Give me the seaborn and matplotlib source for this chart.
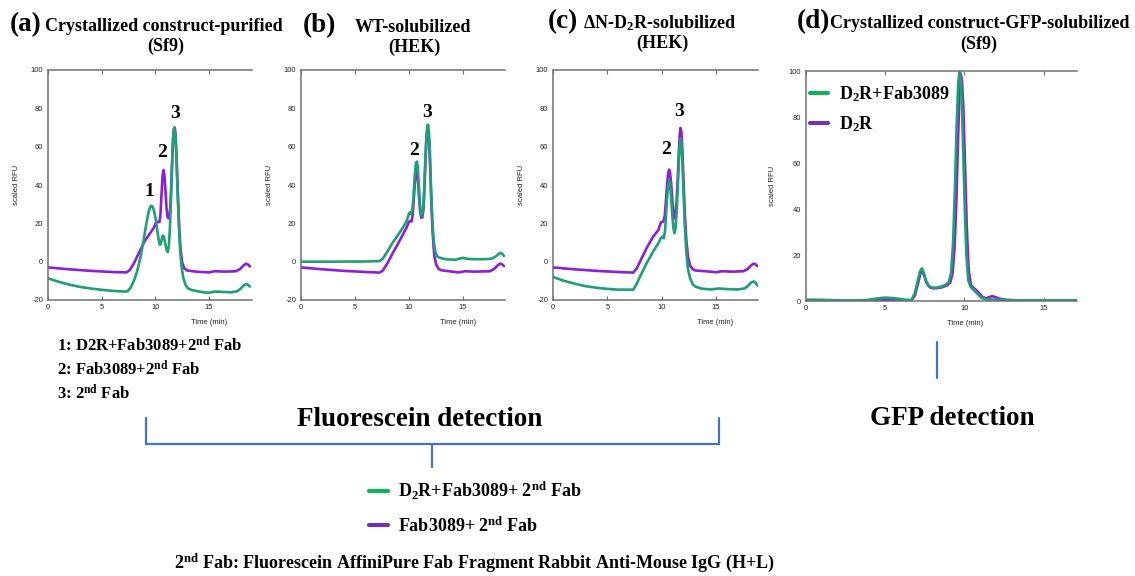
import matplotlib
matplotlib.use("Agg")
import matplotlib.pyplot as plt
from matplotlib.lines import Line2D
import seaborn as sns

# ---- traces (time in min, scaled RFU) ----
# (a) crystallized construct, purified (Sf9)
a_time_green = [0, 1, 2, 3, 4, 5, 6, 7, 7.4, 7.7, 8.0, 8.3, 8.6, 8.9, 9.15, 9.35, 9.5, 9.62, 9.75, 9.9,
                10.05, 10.2, 10.32, 10.42, 10.52, 10.62, 10.7, 10.8, 10.92, 11.05, 11.15, 11.25, 11.35,
                11.45, 11.55, 11.65, 11.73, 11.8, 11.88, 11.97, 12.07, 12.18, 12.3, 12.45, 12.6, 12.8,
                13.0, 13.4, 14.0, 14.5, 15.0, 15.5, 16.0, 17.0, 17.6, 17.9, 18.2, 18.45, 18.65, 18.8]
a_green = [-8.7, -10.5, -12.0, -13.2, -14.0, -14.7, -15.2, -15.6, -15.5, -13.5, -10.0, -5.0, 2.0, 11.0,
           19.5, 25.5, 28.3, 29.2, 28.6, 26.0, 21.5, 15.5, 11.0, 8.8, 9.5, 12.5, 13.6, 12.8, 9.5, 6.0,
           5.0, 8.0, 17.0, 32.0, 50.0, 64.0, 69.5, 69.8, 65.0, 53.0, 36.0, 20.0, 6.5, -3.0, -8.5, -12.0,
           -13.8, -14.8, -15.5, -16.0, -16.2, -15.6, -15.7, -16.0, -15.5, -14.3, -12.5, -11.7, -12.2, -13.0]
a_time_purple = [0, 2, 4, 6, 7.3, 7.6, 8.0, 8.5, 9.0, 9.5, 9.85, 10.05, 10.2, 10.38, 10.48, 10.58, 10.68,
                 10.76, 10.84, 10.94, 11.04, 11.14, 11.24, 11.32, 11.42, 11.52, 11.62, 11.72, 11.8, 11.88,
                 11.98, 12.1, 12.22, 12.35, 12.5, 12.7, 12.95, 13.5, 14.0, 15.0, 15.5, 16.5, 17.5, 17.9,
                 18.2, 18.45, 18.65, 18.8]
a_purple = [-3.0, -4.0, -4.8, -5.4, -5.6, -4.5, -0.9, 5.0, 10.7, 14.8, 17.6, 20.4, 20.8, 20.6, 25.0, 36.0,
            45.5, 47.8, 45.0, 37.0, 28.0, 23.0, 22.6, 23.5, 31.0, 46.0, 61.0, 69.0, 70.0, 66.0, 53.0, 35.0,
            18.0, 6.0, -0.5, -3.5, -4.6, -5.0, -5.3, -5.6, -5.0, -5.2, -5.0, -3.8, -2.0, -1.0, -1.6, -2.5]

# (b) WT solubilized (HEK)
b_time_green = [0, 3, 6, 7.3, 7.6, 8.0, 8.5, 9.0, 9.5, 9.8, 10.0, 10.1, 10.2, 10.3, 10.42, 10.54, 10.65,
                10.74, 10.82, 10.92, 11.02, 11.12, 11.22, 11.32, 11.42, 11.52, 11.62, 11.7, 11.78, 11.86,
                11.95, 12.05, 12.17, 12.3, 12.45, 12.65, 13.0, 13.5, 14.3, 15.0, 15.4, 16.0, 17.0, 17.6,
                18.0, 18.3, 18.55, 18.8]
b_green = [0.0, 0.0, 0.1, 0.3, 1.8, 5.2, 10.0, 14.0, 18.3, 21.5, 25.0, 25.8, 24.8, 26.0, 34.0, 45.0, 51.5,
           52.2, 49.0, 40.0, 30.0, 24.5, 24.0, 27.0, 38.0, 54.0, 66.0, 71.0, 71.5, 67.0, 56.0, 38.0, 21.0,
           10.5, 5.0, 2.5, 1.8, 1.2, 1.0, 2.0, 1.5, 1.3, 1.3, 1.5, 2.5, 4.0, 4.6, 3.0]
b_time_purple = [0, 2, 4, 6, 7.3, 7.6, 8.0, 8.5, 9.0, 9.5, 9.8, 10.0, 10.12, 10.25, 10.36, 10.47, 10.58,
                 10.68, 10.76, 10.84, 10.94, 11.04, 11.14, 11.24, 11.34, 11.44, 11.54, 11.64, 11.72, 11.8,
                 11.88, 11.97, 12.08, 12.2, 12.35, 12.52, 12.75, 13.0, 14.0, 14.6, 15.2, 16.0, 17.5, 17.9,
                 18.2, 18.45, 18.65, 18.8]
b_purple = [-3.0, -4.0, -4.8, -5.4, -5.7, -4.5, -0.9, 4.5, 9.5, 14.8, 18.0, 20.9, 21.2, 21.0, 25.0, 34.5,
            43.5, 47.5, 46.5, 42.0, 33.0, 26.0, 23.0, 23.0, 27.0, 38.0, 54.0, 65.0, 69.0, 68.5, 62.0, 48.0,
            30.0, 14.8, 3.0, -1.5, -3.8, -4.5, -5.2, -5.6, -5.0, -5.2, -5.0, -3.8, -2.0, -1.0, -1.5, -2.3]

# (c) dN-D2R solubilized (HEK)
c_time_green = [0, 1, 2, 3, 4, 5, 6, 7.39, 7.7, 8.0, 8.6, 9.2, 9.69, 9.91, 10.05, 10.18, 10.3, 10.4, 10.5,
                10.6, 10.68, 10.76, 10.86, 10.96, 11.06, 11.16, 11.26, 11.36, 11.46, 11.56, 11.64, 11.72,
                11.8, 11.9, 12.0, 12.12, 12.25, 12.4, 12.6, 12.85, 13.1, 13.6, 14.5, 15.2, 16.0, 17.0,
                17.6, 17.9, 18.2, 18.45, 18.65, 18.8]
c_green = [-8.0, -10.0, -11.5, -12.8, -13.6, -14.2, -14.6, -14.6, -11.5, -7.8, -0.9, 5.2, 9.6, 12.2, 13.0,
           12.2, 16.0, 25.0, 34.0, 40.5, 42.5, 41.0, 34.0, 25.0, 18.0, 14.8, 17.0, 25.0, 37.0, 51.0, 60.0,
           64.4, 62.0, 52.0, 36.0, 19.0, 6.0, -3.5, -8.5, -11.8, -13.0, -14.0, -14.5, -14.0, -14.3, -14.5,
           -14.0, -12.8, -11.0, -10.3, -11.2, -12.5]
c_time_purple = [0, 2, 4, 6, 7.39, 7.7, 8.0, 8.6, 9.2, 9.69, 9.91, 10.15, 10.28, 10.4, 10.5, 10.6, 10.68,
                 10.76, 10.86, 10.96, 11.06, 11.16, 11.26, 11.36, 11.46, 11.56, 11.64, 11.72, 11.8, 11.9,
                 12.0, 12.12, 12.25, 12.4, 12.6, 12.85, 13.1, 14.0, 15.0, 15.5, 16.5, 17.5, 17.9, 18.2,
                 18.45, 18.65, 18.8]
c_purple = [-3.0, -4.0, -4.8, -5.4, -5.7, -3.5, 0.0, 7.0, 13.0, 16.5, 20.4, 21.0, 24.0, 33.0, 41.0, 46.5,
            48.0, 46.5, 41.0, 33.0, 26.0, 22.6, 24.0, 31.0, 42.0, 56.0, 65.0, 69.8, 68.0, 58.0, 42.0, 25.0,
            12.0, 3.0, -2.0, -4.0, -4.6, -5.0, -5.5, -5.0, -5.2, -5.0, -3.8, -2.0, -1.0, -1.5, -2.3]

# (d) crystallized construct, GFP solubilized (Sf9)
d_time_green = [0, 1, 2, 3, 3.8, 4.4, 5.0, 5.6, 6.2, 6.65, 6.86, 7.06, 7.2, 7.32, 7.44, 7.58, 7.75, 7.95,
                8.2, 8.5, 8.8, 9.0, 9.15, 9.28, 9.4, 9.5, 9.6, 9.68, 9.75, 9.83, 9.92, 10.02, 10.12, 10.24,
                10.38, 10.55, 10.72, 10.9, 11.1, 11.4, 11.8, 12.3, 13.0, 14.0, 15.0, 16.0, 17.1]
d_green = [0.6, 0.5, 0.3, 0.2, 0.4, 1.0, 1.5, 1.2, 0.6, 0.4, 3.3, 9.1, 13.0, 14.2, 12.0, 8.6, 6.5, 5.8,
           5.8, 6.2, 7.0, 8.0, 12.0, 25.0, 50.0, 75.0, 94.0, 100.0, 98.0, 88.0, 65.0, 40.0, 20.0, 9.0,
           6.2, 5.0, 3.8, 2.5, 1.2, 0.8, 0.6, 0.5, 0.3, 0.3, 0.3, 0.3, 0.3]
d_time_purple = [0, 2, 4, 5.0, 6.0, 6.65, 6.88, 7.08, 7.22, 7.34, 7.46, 7.6, 7.8, 8.0, 8.3, 8.6, 8.9, 9.1,
                 9.25, 9.38, 9.5, 9.6, 9.7, 9.76, 9.84, 9.93, 10.03, 10.14, 10.26, 10.4, 10.6, 10.78,
                 10.95, 11.15, 11.4, 11.6, 11.75, 11.95, 12.2, 12.6, 13.2, 14.0, 15.0, 16.0, 17.1]
d_purple = [0.2, 0.1, 0.2, 0.5, 0.3, 0.2, 2.5, 8.0, 12.0, 13.0, 11.0, 8.0, 6.0, 5.5, 5.6, 6.0, 6.8, 8.0,
            12.0, 24.0, 46.0, 72.0, 93.0, 99.0, 96.0, 84.0, 60.0, 33.0, 14.0, 7.0, 5.5, 4.5, 3.2, 1.6,
            1.2, 1.8, 2.1, 1.7, 1.0, 0.5, 0.3, 0.2, 0.2, 0.2, 0.2]

# peak numbers: (label, time, value)
a_peaks = [("1", 9.41, 34.3), ("2", 10.62, 54.8), ("3", 11.8, 75.1)]
b_peaks = [("2", 10.46, 55.7), ("3", 11.67, 75.6)]
c_peaks = [("2", 10.44, 56.2), ("3", 11.6, 76.0)]

fluor_ticks_y = [-20, 0, 20, 40, 60, 80, 100]
gfp_ticks_y = [0, 20, 40, 60, 80, 100]
time_ticks = [0, 5, 10, 15]

fluor_labels = ["D$_2$R+Fab3089+ 2$^{\\rm nd}$ Fab", "Fab3089+ 2$^{\\rm nd}$ Fab"]
gfp_labels = ["D$_2$R+Fab3089", "D$_2$R"]
peak_key = ["1: D2R+Fab3089+2$^{\\rm nd}$ Fab", "2: Fab3089+2$^{\\rm nd}$ Fab", "3: 2$^{\\rm nd}$ Fab"]

GREEN = "#1f9e78"
PURPLE = "#8a1fd6"
LEG_GREEN = "#12b05e"
LEG_PURPLE = "#7134a8"
BLUE = "#4472c4"

sns.set_style("ticks")
plt.rcParams["font.family"] = ["Liberation Serif", "DejaVu Serif"]
plt.rcParams["mathtext.fontset"] = "custom"
plt.rcParams["mathtext.rm"] = "Liberation Serif:bold"
plt.rcParams["mathtext.bf"] = "Liberation Serif:bold"
plt.rcParams["mathtext.it"] = "Liberation Serif:bold"
plt.rcParams["axes.unicode_minus"] = False
plt.rcParams["text.color"] = "black"

W, H = 1135, 576
fig = plt.figure(figsize=(W / 100, H / 100), dpi=100)


def fx(x):
    return x / W


def fy(y):
    return 1 - y / H


def panel(l, t, r, b):
    return fig.add_axes([fx(l), fy(b), (r - l) / W, (b - t) / H])


def style(ax, xmax, yticks, xlab_x, ylab_x):
    ax.set_xlim(0, xmax)
    ax.set_ylim(yticks[0], yticks[-1])
    ax.set_xticks(time_ticks)
    ax.set_yticks(yticks)
    for s in ["left", "bottom", "top"]:
        ax.spines[s].set_color("#707070")
        ax.spines[s].set_linewidth(1.1)
    ax.spines["right"].set_visible(False)
    ax.tick_params(axis="x", direction="in", length=3, width=0.8, color="#707070",
                   labelsize=5.5, top=True, pad=3, labelcolor="#222222")
    ax.tick_params(axis="y", length=0, labelsize=5.5, pad=3.5, labelcolor="#222222")
    for lab in ax.get_xticklabels() + ax.get_yticklabels():
        lab.set_fontfamily("Liberation Sans")
    ax.set_xlabel("Time (min)", fontsize=5.5, family="Liberation Sans", color="#222222")
    ax.set_ylabel("scaled RFU", fontsize=5.5, family="Liberation Sans", color="#222222")
    ax.xaxis.set_label_coords(xlab_x, -0.083)
    ax.yaxis.set_label_coords(ylab_x, 0.5)


def traces(ax, tg, vg, tp, vp):
    sns.lineplot(x=tp, y=vp, ax=ax, color=PURPLE, linewidth=1.9, sort=False, errorbar=None)
    sns.lineplot(x=tg, y=vg, ax=ax, color=GREEN, linewidth=1.9, sort=False, errorbar=None)


def peak_labels(ax, peaks):
    for lab, t, v in peaks:
        ax.text(t, v, lab, ha="center", va="baseline", fontsize=14, weight="bold")


ax_a = panel(48, 70, 252, 300)
traces(ax_a, a_time_green, a_green, a_time_purple, a_purple)
style(ax_a, 19.0, fluor_ticks_y, 0.79, -0.137)
peak_labels(ax_a, a_peaks)

ax_b = panel(301, 70, 505, 300)
traces(ax_b, b_time_green, b_green, b_time_purple, b_purple)
style(ax_b, 18.9, fluor_ticks_y, 0.77, -0.137)
peak_labels(ax_b, b_peaks)

ax_c = panel(553, 70, 758, 300)
traces(ax_c, c_time_green, c_green, c_time_purple, c_purple)
style(ax_c, 18.85, fluor_ticks_y, 0.79, -0.137)
peak_labels(ax_c, c_peaks)

ax_d = panel(806, 71, 1077, 301)
traces(ax_d, d_time_green, d_green, d_time_purple, d_purple)
style(ax_d, 17.1, gfp_ticks_y, 0.587, -0.11)

leg_font = {"family": "Liberation Serif", "weight": "bold", "size": 13}
gfp_handles = [Line2D([], [], color=LEG_GREEN, lw=3), Line2D([], [], color=LEG_PURPLE, lw=3)]
ax_d.legend(gfp_handles, gfp_labels, loc="upper left", bbox_to_anchor=(fx(810), fy(84)),
            bbox_transform=fig.transFigure, frameon=False, prop=leg_font, handlelength=1.0,
            handletextpad=0.6, labelspacing=0.6, borderpad=0, borderaxespad=0)

# ---- panel titles ----
titles = [
    (10, "(a)", 45, "Crystallized construct-purified", 31, "(Sf9)", 166, 51),
    (303, "(b)", 355, "WT-solubilized", 32, "(HEK)", 414, 52),
    (548, "(c)", 583, "ΔN-D$_2$R-solubilized", 28, "(HEK)", 662, 48),
    (797, "(d)", 830, "Crystallized construct-GFP-solubilized", 28, "(Sf9)", 979, 49),
]
for x0, tag, x1, txt, base, sub, xs, base2 in titles:
    fig.text(fx(x0), fy(base), tag, fontsize=19.5, weight="bold", ha="left", va="baseline")
    fig.text(fx(x1), fy(base), txt, fontsize=13, weight="bold", ha="left", va="baseline")
    fig.text(fx(xs), fy(base2), sub, fontsize=13, weight="bold", ha="center", va="baseline")

# ---- key for peak numbers ----
for i, line in enumerate(peak_key):
    fig.text(fx(57), fy(351 + 24 * i), line, fontsize=12, weight="bold", ha="left", va="baseline")

# ---- detection brackets ----
def seg(x1, y1, x2, y2):
    fig.add_artist(Line2D([fx(x1), fx(x2)], [fy(y1), fy(y2)], transform=fig.transFigure,
                          color=BLUE, lw=1.6))


seg(146, 418, 146, 444)
seg(146, 444, 719, 444)
seg(719, 418, 719, 444)
seg(432, 444, 432, 467)
seg(937, 342, 937, 378)

fig.text(fx(420), fy(426), "Fluorescein detection", fontsize=19.5, weight="bold", ha="center", va="baseline")
fig.text(fx(952), fy(425), "GFP detection", fontsize=19.5, weight="bold", ha="center", va="baseline")

fluor_handles = [Line2D([], [], color=LEG_GREEN, lw=3), Line2D([], [], color=LEG_PURPLE, lw=3)]
fig.legend(fluor_handles, fluor_labels, loc="upper left", bbox_to_anchor=(fx(369), fy(480)),
           frameon=False, prop=leg_font, handlelength=1.05, handletextpad=0.55, labelspacing=0.78,
           borderpad=0, borderaxespad=0)

fig.text(fx(474), fy(568), "2$^{\\rm nd}$ Fab: Fluorescein AffiniPure Fab Fragment Rabbit Anti-Mouse IgG (H+L)",
         fontsize=13, weight="bold", ha="center", va="baseline")

fig.savefig("out.png", dpi=100)
